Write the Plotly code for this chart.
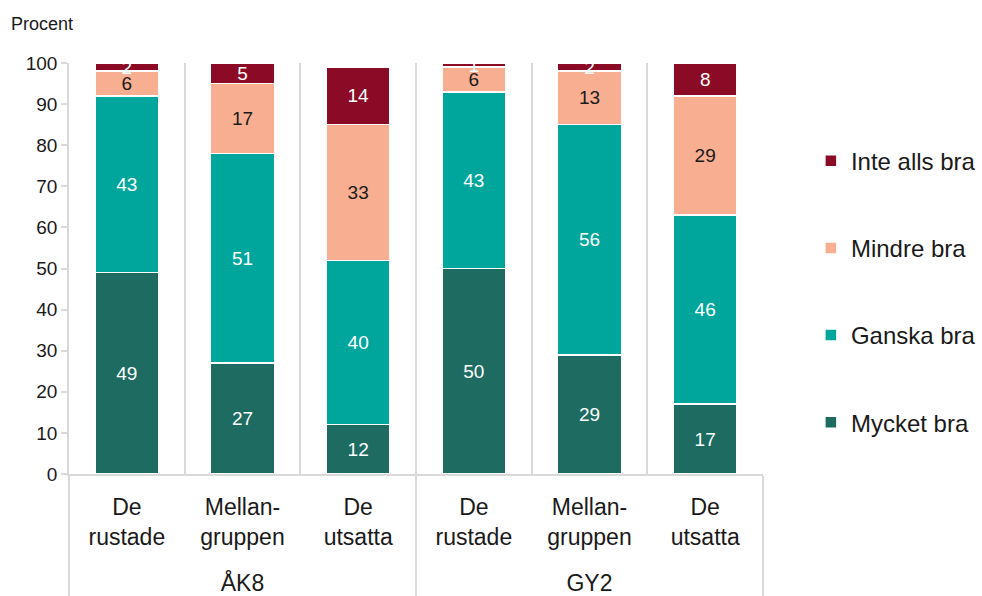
import plotly.graph_objects as go

# Grouping: school year (outer) and resilience group (inner)
years = ["<br>ÅK8", "<br>ÅK8", "<br>ÅK8", "<br>GY2", "<br>GY2", "<br>GY2"]
groups = ["De<br>rustade", "Mellan-<br>gruppen", "De<br>utsatta",
          "De<br>rustade", "Mellan-<br>gruppen", "De<br>utsatta"]

# Share (percent) per answer category
mycket_bra = [49, 27, 12, 50, 29, 17]
ganska_bra = [43, 51, 40, 43, 56, 46]
mindre_bra = [6, 17, 33, 6, 13, 29]
inte_alls_bra = [2, 5, 14, 1, 2, 8]

series = [
    ("Mycket bra", mycket_bra, "#1D6B61", "white", 4),
    ("Ganska bra", ganska_bra, "#00A69C", "white", 3),
    ("Mindre bra", mindre_bra, "#F7AE91", "#1a1a1a", 2),
    ("Inte alls bra", inte_alls_bra, "#8B0A25", "white", 1),
]

FONT = "Liberation Sans, Arial, sans-serif"
GRID = "#d9d9d9"

fig = go.Figure()
for name, vals, color, tcolor, rank in series:
    fig.add_trace(go.Bar(
        name=name,
        x=[years, groups],
        y=vals,
        marker=dict(color=color, line=dict(color="white", width=1.5)),
        text=[str(v) for v in vals],
        textposition="inside",
        insidetextanchor="middle",
        textangle=0,
        textfont=dict(color=tcolor, size=19, family=FONT),
        legendgroup=name,
        legendrank=rank,
        hoverinfo="skip",
    ))

fig.update_layout(
    barmode="stack",
    bargap=0.45,
    width=982,
    height=596,
    margin=dict(l=69, r=219, t=63, b=122, autoexpand=False),
    paper_bgcolor="white",
    plot_bgcolor="white",
    font=dict(family=FONT, color="#1a1a1a", size=19),
    uniformtext=dict(minsize=19, mode="show"),
    legend=dict(
        x=1.069, y=0.816, xanchor="left", yanchor="top",
        traceorder="grouped",
        tracegroupgap=53,
        font=dict(size=24, family=FONT, color="#1a1a1a"),
        bgcolor="rgba(0,0,0,0)",
    ),
    annotations=[dict(
        text="Procent", xref="paper", yref="paper",
        x=-0.087, y=1.095, xanchor="left", yanchor="middle",
        showarrow=False, font=dict(size=18, family=FONT, color="#1a1a1a"),
    )],
)

fig.update_xaxes(
    type="multicategory",
    tickson="boundaries",
    showgrid=True, gridcolor=GRID, gridwidth=1.5,
    showline=True, linecolor=GRID, linewidth=1.5,
    ticks="",
    ticklabelstandoff=12,
    showdividers=True, dividercolor=GRID, dividerwidth=1.5,
    tickfont=dict(size=23, family=FONT, color="#1a1a1a"),
)
fig.update_yaxes(
    range=[0, 100], dtick=10,
    showgrid=False, zeroline=False,
    showline=True, linecolor=GRID, linewidth=1.5,
    ticks="outside", ticklen=6, tickcolor=GRID, tickwidth=1.5,
    tickfont=dict(size=19, family=FONT, color="#1a1a1a"),
)

fig.write_html("out.html")
